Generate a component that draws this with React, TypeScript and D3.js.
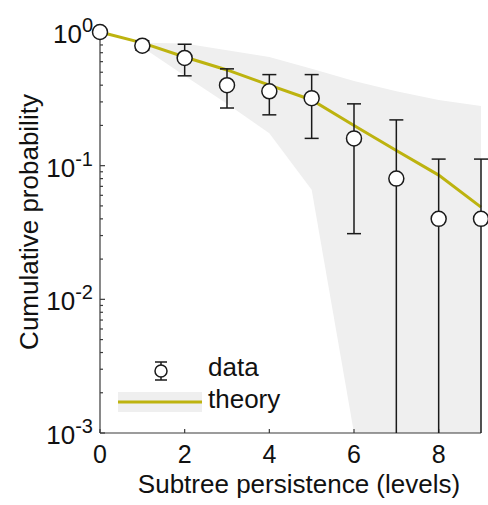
import React from "react";
import * as d3 from "d3";

const levels = [0, 1, 2, 3, 4, 5, 6, 7, 8, 9];
const dataMean = [1.0, 0.79, 0.64, 0.4, 0.36, 0.32, 0.16, 0.08, 0.04, 0.04];
const dataUpper = [1.0, 0.86, 0.81, 0.53, 0.48, 0.48, 0.29, 0.22, 0.112, 0.112];
const dataLower = [1.0, 0.73, 0.47, 0.27, 0.24, 0.16, 0.031, 0, 0, 0];
const theory = [1.0, 0.83, 0.65, 0.52, 0.4, 0.31, 0.2, 0.13, 0.085, 0.049];
const bandLevels = [1, 2, 3, 4, 5, 6, 7, 8, 9];
const bandUpper = [0.83, 0.82, 0.73, 0.65, 0.53, 0.43, 0.36, 0.31, 0.28];
const bandLower = [0.77, 0.47, 0.29, 0.175, 0.066, 0.001, 0.001, 0.001, 0.001];
const xTicks = [0, 2, 4, 6, 8];
const yTickExps = [0, -1, -2, -3];

const W = 488;
const H = 505;
const FONT = "'Liberation Sans', Arial, Helvetica, sans-serif";
const LINE_COLOR = "#bdb30f";
const BAND_COLOR = "#efefef";

export default function App() {
  const x = d3.scaleLinear().domain([0, 9]).range([100, 481]);
  const y = d3.scaleLog().domain([1e-3, 1]).range([433, 32]);
  const yMin = 1e-3;

  const area = d3
    .area<number>()
    .x((_, i) => x(bandLevels[i]))
    .y0((_, i) => y(Math.max(bandLower[i], yMin)))
    .y1((_, i) => y(bandUpper[i]));

  const line = d3
    .line<number>()
    .x((_, i) => x(levels[i]))
    .y((d) => y(d));

  const minorTicks: number[] = [];
  for (let e = -3; e < 0; e++) {
    for (let m = 2; m <= 9; m++) minorTicks.push(m * Math.pow(10, e));
  }

  const capW = 7;

  return (
    <svg
      width={W}
      height={H}
      style={{ position: "absolute", left: 0, top: 0, background: "#fff" }}
      fontFamily={FONT}
    >
      <defs>
        <clipPath id="plotClip">
          <rect x={100} y={0} width={381} height={433} />
        </clipPath>
      </defs>

      {/* confidence band */}
      <path d={area(bandUpper) || ""} fill={BAND_COLOR} clipPath="url(#plotClip)" />

      {/* theory line */}
      <path d={line(theory) || ""} fill="none" stroke={LINE_COLOR} strokeWidth={3} />

      {/* axes */}
      <g stroke="#3a3a3a" strokeWidth={1.2} fill="none">
        <line x1={100} y1={y(1)} x2={100} y2={433} />
        <line x1={100} y1={433} x2={481} y2={433} />
        {yTickExps.map((e) => (
          <line key={"ym" + e} x1={100} x2={105} y1={y(Math.pow(10, e))} y2={y(Math.pow(10, e))} />
        ))}
        {minorTicks.map((v) => (
          <line key={"yn" + v} x1={100} x2={103} y1={y(v)} y2={y(v)} />
        ))}
        {xTicks.map((t) => (
          <line key={"xt" + t} x1={x(t)} x2={x(t)} y1={433} y2={429} />
        ))}
      </g>

      {/* error bars */}
      <g stroke="#1a1a1a" strokeWidth={1.5} fill="none">
        {levels.map((lv, i) => {
          const up = dataUpper[i];
          const lo = dataLower[i];
          if (up === lo) return null;
          const cx = x(lv);
          const yUp = y(up);
          const loClamped = lo > yMin;
          const yLo = loClamped ? y(lo) : y(yMin);
          return (
            <g key={"eb" + i}>
              <line x1={cx} x2={cx} y1={yUp} y2={yLo} />
              <line x1={cx - capW} x2={cx + capW} y1={yUp} y2={yUp} />
              {loClamped && <line x1={cx - capW} x2={cx + capW} y1={yLo} y2={yLo} />}
            </g>
          );
        })}
      </g>

      {/* data points */}
      <g stroke="#1a1a1a" strokeWidth={1.5} fill="#fff">
        {levels.map((lv, i) => (
          <circle key={"pt" + i} cx={x(lv)} cy={y(dataMean[i])} r={7.5} />
        ))}
      </g>

      {/* y tick labels */}
      {yTickExps.map((e) => (
        <text
          key={"yl" + e}
          x={93}
          y={y(Math.pow(10, e)) + 11}
          textAnchor="end"
          fontSize={26}
          fill="#111"
        >
          10
          <tspan fontSize={20} dy={-11}>
            {e === 0 ? "0" : "-" + Math.abs(e)}
          </tspan>
        </text>
      ))}

      {/* x tick labels */}
      {xTicks.map((t) => (
        <text key={"xl" + t} x={x(t)} y={463} textAnchor="middle" fontSize={25} fill="#111">
          {t}
        </text>
      ))}

      {/* axis titles */}
      <text x={299} y={493} textAnchor="middle" fontSize={26} fill="#111">
        Subtree persistence (levels)
      </text>
      <text
        transform={`translate(38,222) rotate(-90)`}
        textAnchor="middle"
        fontSize={26}
        fill="#111"
      >
        Cumulative probability
      </text>

      {/* legend */}
      <g>
        <g stroke="#1a1a1a" strokeWidth={1.5}>
          <line x1={161} x2={161} y1={362} y2={380} />
          <line x1={155} x2={167} y1={362} y2={362} />
          <line x1={155} x2={167} y1={380} y2={380} />
          <circle cx={161} cy={371} r={6} fill="#fff" />
        </g>
        <text x={208} y={376} fontSize={26} fill="#111">
          data
        </text>
        <rect x={118} y={392} width={84} height={20} fill={BAND_COLOR} />
        <line x1={118} x2={202} y1={402} y2={402} stroke={LINE_COLOR} strokeWidth={3} />
        <text x={208} y={408} fontSize={26} fill="#111">
          theory
        </text>
      </g>
    </svg>
  );
}
